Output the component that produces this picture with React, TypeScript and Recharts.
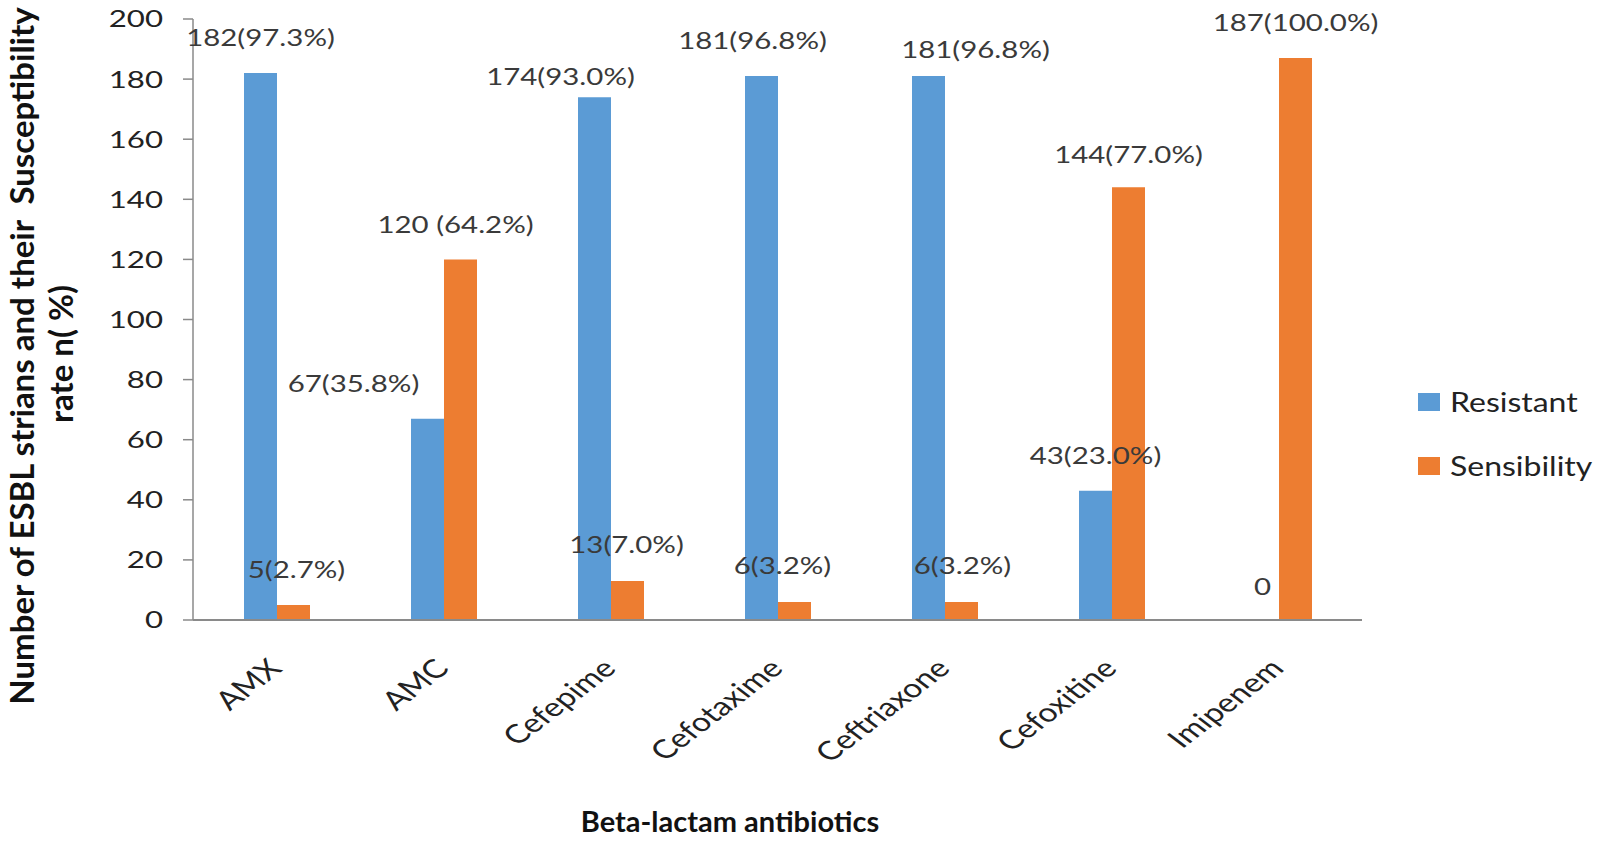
import React from "react";
import { BarChart, Bar, XAxis, YAxis, Legend, LabelList } from "recharts";

const categories = ["AMX", "AMC", "Cefepime", "Cefotaxime", "Ceftriaxone", "Cefoxitine", "Imipenem"];
const resistant = [182, 67, 174, 181, 181, 43, 0];
const sensibility = [5, 120, 13, 6, 6, 144, 187];
const resistantLabels = ["182(97.3%)", "67(35.8%)", "174(93.0%)", "181(96.8%)", "181(96.8%)", "43(23.0%)", "0"];
const sensibilityLabels = ["5(2.7%)", "120 (64.2%)", "13(7.0%)", "6(3.2%)", "6(3.2%)", "144(77.0%)", "187(100.0%)"];
const yTicks = [0, 20, 40, 60, 80, 100, 120, 140, 160, 180, 200];

const data = categories.map((name, i) => ({
  name,
  resistant: resistant[i],
  sensibility: sensibility[i],
  resistantLabel: resistantLabels[i],
  sensibilityLabel: sensibilityLabels[i],
}));

// label placement (Excel labels were dragged by hand), offset from bar top centre
const resistantOffsets = [[0, -35], [-74, -35], [-34, -20], [-9, -35], [47, -26], [0, -35], [0, -33]];
const sensibilityOffsets = [[3, -35], [-5, -34], [-1, -36], [-12, -36], [1, -36], [0, -32], [0, -35]];

const FONT = "Lato, 'Open Sans', sans-serif";
const BLUE = "#5B9BD5";
const ORANGE = "#ED7D31";
const AXIS = "#8a8a8a";
const SX = 1.28; // the source image is stretched sideways

const makeLabel = (offsets: number[][]) => (props: any) => {
  const { x, y, width, index, value } = props;
  const [dx, dy] = offsets[index] || [0, -35];
  const cx = Number(x) + Number(width) / 2 + dx;
  const cy = Number(y) + dy;
  return (
    <text
      transform={`translate(${cx},${cy}) scale(${SX},1)`}
      textAnchor="middle"
      dy="0.35em"
      fontSize={23}
      fontFamily={FONT}
      fill="#3a3a3a"
    >
      {value}
    </text>
  );
};

const YTick = (props: any) => {
  const { x, y, payload } = props;
  return (
    <text
      transform={`translate(${x},${y}) scale(1.3,1)`}
      textAnchor="end"
      dy="0.35em"
      fontSize={24}
      fontFamily={FONT}
      fill="#222"
    >
      {payload.value}
    </text>
  );
};

const XTick = (props: any) => {
  const { x, y, payload } = props;
  return (
    <text
      transform={`translate(${x + 7},${y + 50}) scale(1.3,1) rotate(-45)`}
      textAnchor="end"
      fontSize={26}
      fontFamily={FONT}
      fill="#222"
    >
      {payload.value}
    </text>
  );
};

const YTitle = () => (
  <g fontFamily={FONT} fontWeight="bold" fontSize={33} fill="#111">
    <text transform="translate(34,356) rotate(-90)" textAnchor="middle" style={{ whiteSpace: "pre" }}>
      {"Number of ESBL strians and their  Susceptibility"}
    </text>
    <text transform="translate(73,354) rotate(-90)" textAnchor="middle">
      {"rate n( %)"}
    </text>
  </g>
);

const XTitle = () => (
  <text x={730} y={822} dy="0.35em" textAnchor="middle" fontFamily={FONT} fontWeight="bold" fontSize={29} fill="#111">
    Beta-lactam antibiotics
  </text>
);

const renderLegend = (props: any) => {
  const { payload } = props;
  return (
    <div style={{ fontFamily: FONT }}>
      {(payload || []).map((entry: any, i: number) => (
        <div key={`legend-${i}`} style={{ display: "flex", alignItems: "center", height: 18, marginBottom: i === 0 ? 46 : 0 }}>
          <span style={{ width: 22, height: 18, background: entry.color, display: "inline-block" }} />
          <span
            style={{
              marginLeft: 10,
              fontSize: 26,
              color: "#222",
              display: "inline-block",
              transform: "scale(1.23,1)",
              transformOrigin: "left center",
              whiteSpace: "nowrap",
              lineHeight: "18px",
            }}
          >
            {entry.value}
          </span>
        </div>
      ))}
    </div>
  );
};

export default function App() {
  return (
    <div style={{ position: "absolute", left: 0, top: 0, width: 1597, height: 841, overflow: "hidden", background: "#fff" }}>
      <BarChart
        width={1597}
        height={841}
        data={data}
        margin={{ top: 19, right: 235, bottom: 0, left: 0 }}
        barGap={0}
        barSize={33}
      >
        <XAxis
          dataKey="name"
          height={221}
          interval={0}
          tickSize={0}
          tickMargin={0}
          tick={<XTick />}
          axisLine={{ stroke: AXIS, strokeWidth: 2 }}
          label={<XTitle />}
        />
        <YAxis
          width={193}
          domain={[0, 200]}
          ticks={yTicks}
          interval={0}
          tickSize={10}
          tickMargin={20}
          tick={<YTick />}
          tickLine={{ stroke: AXIS, strokeWidth: 1.5 }}
          axisLine={{ stroke: AXIS, strokeWidth: 1.5 }}
          label={<YTitle />}
        />
        <Legend
          layout="vertical"
          align="center"
          verticalAlign="middle"
          content={renderLegend}
          wrapperStyle={{ left: 1418, top: 393, width: 179 }}
        />
        <Bar dataKey="resistant" name="Resistant" fill={BLUE} minPointSize={0.4} isAnimationActive={false}>
          <LabelList dataKey="resistantLabel" content={makeLabel(resistantOffsets)} />
        </Bar>
        <Bar dataKey="sensibility" name="Sensibility" fill={ORANGE} isAnimationActive={false}>
          <LabelList dataKey="sensibilityLabel" content={makeLabel(sensibilityOffsets)} />
        </Bar>
      </BarChart>
    </div>
  );
}
